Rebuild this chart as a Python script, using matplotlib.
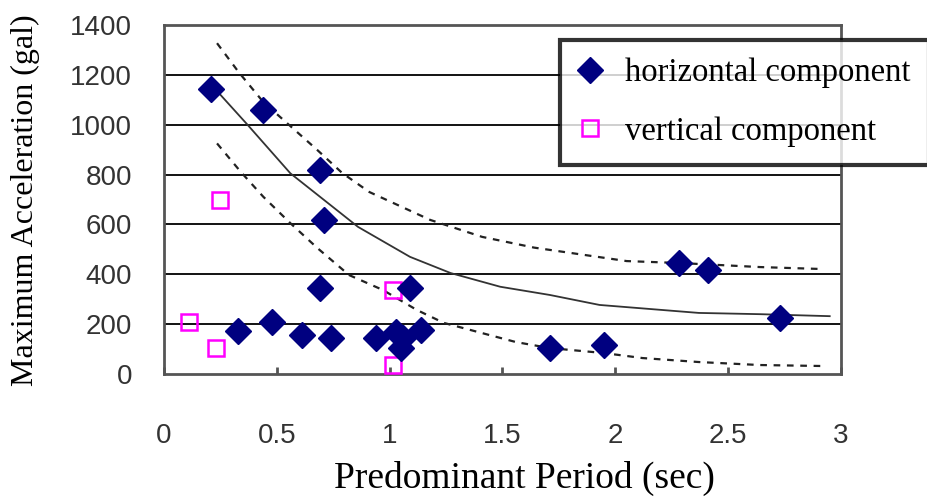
import matplotlib
matplotlib.use('Agg')
import matplotlib.pyplot as plt

# horizontal component (diamonds)
hor_period = [0.21, 0.44, 0.69, 0.71, 0.69, 1.09, 0.33, 0.48, 0.61, 0.74,
              0.94, 1.03, 1.06, 1.05, 1.14, 1.71, 1.95, 2.28, 2.41, 2.73]
hor_acc = [1145, 1060, 818, 618, 345, 345, 172, 209, 156, 144,
           144, 168, 144, 104, 176, 104, 116, 445, 417, 225]

# vertical component (open squares)
ver_period = [0.11, 0.23, 0.25, 1.015, 1.015]
ver_acc = [209, 104, 698, 337, 36]

# mean curve and upper / lower bounds
mean_x = [0.23, 0.37, 0.56, 0.86, 1.09, 1.27, 1.49, 1.71, 1.93, 2.37, 2.64, 2.95]
mean_y = [1140, 1000, 805, 590, 470, 405, 350, 317, 277, 245, 240, 232]

upper_x = [0.235, 0.33, 0.44, 0.68, 0.79, 0.91, 1.18, 1.41, 1.64, 2.05, 2.29, 2.64, 2.92]
upper_y = [1327, 1212, 1091, 898, 806, 730, 618, 550, 507, 453, 445, 429, 421]

lower_x = [0.235, 0.34, 0.44, 0.56, 0.68, 0.82, 0.97, 1.12, 1.24, 1.41, 1.56,
           1.71, 1.95, 2.12, 2.37, 2.64, 2.92]
lower_y = [925, 811, 711, 605, 505, 397, 337, 257, 205, 164, 128,
           104, 84, 64, 48, 36, 32]

x_ticks = [0, 0.5, 1, 1.5, 2, 2.5, 3]
x_tick_labels = ['0', '0.5', '1', '1.5', '2', '2.5', '3']
y_ticks = [0, 200, 400, 600, 800, 1000, 1200, 1400]

serif = 'Liberation Serif'
sans = 'Liberation Sans'

fig = plt.figure(figsize=(9.27, 4.99), dpi=100)
ax = fig.add_axes([164 / 927, 125 / 499, 677 / 927, 349 / 499])

ax.set_xlim(0, 3)
ax.set_ylim(0, 1400)

for y in y_ticks[1:-1]:
    ax.axhline(y, color='black', lw=1.3, zorder=1)

ax.plot(mean_x, mean_y, color='#333333', lw=1.3, zorder=2)
ax.plot(upper_x, upper_y, color='#222222', lw=1.6, ls=(0, (3, 3)), zorder=2)
ax.plot(lower_x, lower_y, color='#222222', lw=1.6, ls=(0, (3, 3)), zorder=2)

ax.plot(hor_period, hor_acc, ls='none', marker='D', ms=13.5, color='#000080',
        mec='#000080', label='horizontal component', zorder=4, clip_on=False)
ax.plot(ver_period, ver_acc, ls='none', marker='s', ms=12, mfc='none',
        mec='#ff00ff', mew=1.8, label='vertical component', zorder=3, clip_on=False)

for side in ['left', 'right', 'top', 'bottom']:
    ax.spines[side].set_color('#555555')
    ax.spines[side].set_linewidth(2)

ax.set_xticks(x_ticks)
ax.set_xticklabels(x_tick_labels, family=sans, fontsize=20, color='#333333')
ax.set_yticks(y_ticks)
ax.set_yticklabels([str(v) for v in y_ticks], family=sans, fontsize=20, color='#333333')
ax.tick_params(axis='x', direction='in', length=5, width=2, color='#555555', pad=35)
ax.tick_params(axis='y', length=0, pad=23)

fig.text(524 / 927, 11 / 499, 'Predominant Period (sec)', family=serif,
         fontsize=27, ha='center', va='baseline')
fig.text(25 / 927, 299 / 499, 'Maximum Acceleration (gal)', family=serif,
         fontsize=23, ha='center', va='center', rotation=90)

leg = fig.legend(loc='upper left', bbox_to_anchor=(560 / 927, 459 / 499),
                 prop={'family': serif, 'size': 23.5}, frameon=True,
                 fancybox=False, borderpad=0.55, labelspacing=0.85,
                 handlelength=0.75, handletextpad=0.7, borderaxespad=0)
leg.get_frame().set_edgecolor('black')
leg.get_frame().set_linewidth(3)

fig.savefig('out.png', dpi=100)
